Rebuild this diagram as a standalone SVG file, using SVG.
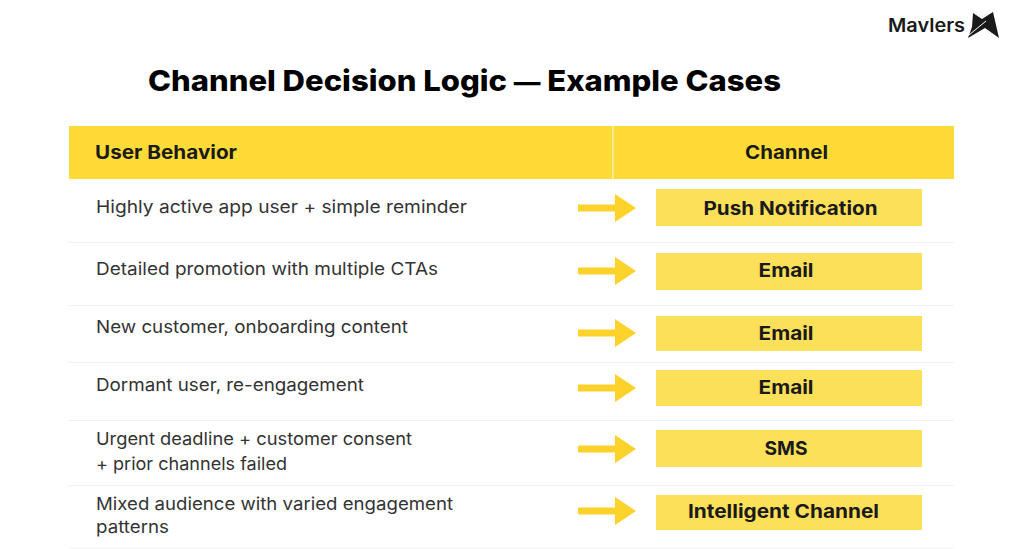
<svg xmlns="http://www.w3.org/2000/svg" width="1024" height="549" viewBox="0 0 1024 549">
<style>
text{font-family:"Inter","Open Sans","Liberation Sans",sans-serif;fill:#1a1a1a}
.title{font-size:29px;font-weight:800;fill:#000}
.head{font-size:19px;font-weight:700}
.row{font-size:17.5px;font-weight:400;fill:#333}
.ch{font-size:19px;font-weight:700;text-anchor:middle}
.box{fill:#fde05a}
.sep{stroke:#f1f1f1;stroke-width:1}
.arrow{fill:#fdd22a}
</style>
<defs><polygon id="arr" class="arrow" points="578,-3.500 615,-3.500 615,-14 636,0 615,14 615,3.500 578,3.500"/></defs>
<rect width="1024" height="549" fill="#fff"/>
<g id="logo">
<text x="888" y="32" font-size="18.5" font-weight="600" textLength="77" lengthAdjust="spacingAndGlyphs">Mavlers</text>
<polygon points="973,13 982,19 993,12 999,38 985,28 968,38 972,27" fill="#1a1a1a"/>
<line x1="969" y1="35" x2="986" y2="21" stroke="#fff" stroke-width="1"/>
</g>
<text class="title" x="148" y="91" textLength="633" lengthAdjust="spacingAndGlyphs">Channel Decision Logic <tspan font-size="25">—</tspan> Example Cases</text>
<g id="header">
<rect x="69" y="126" width="885" height="53" fill="#fedb37"/>
<rect x="612" y="126" width="1.500" height="53" fill="#fff0b0"/>
<text class="head" x="95" y="158.500" textLength="142" lengthAdjust="spacingAndGlyphs">User Behavior</text>
<text class="head" x="745" y="158.500" textLength="83" lengthAdjust="spacingAndGlyphs">Channel</text>
</g>
<g id="separators">
<line class="sep" x1="69" x2="954" y1="242.500" y2="242.500"/>
<line class="sep" x1="69" x2="954" y1="305.500" y2="305.500"/>
<line class="sep" x1="69" x2="954" y1="362.500" y2="362.500"/>
<line class="sep" x1="69" x2="954" y1="420.500" y2="420.500"/>
<line class="sep" x1="69" x2="954" y1="485.500" y2="485.500"/>
<line class="sep" x1="69" x2="954" y1="548" y2="548"/>
</g>
<g id="connectors">
<use href="#arr" y="208"/>
<use href="#arr" y="271"/>
<use href="#arr" y="333"/>
<use href="#arr" y="388"/>
<use href="#arr" y="449"/>
<use href="#arr" y="511"/>
</g>
<g id="row1">
<text class="row" x="96" y="213" textLength="371" lengthAdjust="spacingAndGlyphs">Highly active app user + simple reminder</text>
<rect class="box" x="656" y="189" width="266" height="37"/>
<text class="ch" x="790.500" y="215" textLength="174" lengthAdjust="spacingAndGlyphs">Push Notification</text>
</g>
<g id="row2">
<text class="row" x="96" y="275" textLength="342" lengthAdjust="spacingAndGlyphs">Detailed promotion with multiple CTAs</text>
<rect class="box" x="656" y="253" width="266" height="37"/>
<text class="ch" x="786" y="277" textLength="55" lengthAdjust="spacingAndGlyphs">Email</text>
</g>
<g id="row3">
<text class="row" x="96" y="333" textLength="312" lengthAdjust="spacingAndGlyphs">New customer, onboarding content</text>
<rect class="box" x="656" y="316" width="266" height="35"/>
<text class="ch" x="786" y="340" textLength="55" lengthAdjust="spacingAndGlyphs">Email</text>
</g>
<g id="row4">
<text class="row" x="96" y="391" textLength="268" lengthAdjust="spacingAndGlyphs">Dormant user, re-engagement</text>
<rect class="box" x="656" y="370" width="266" height="36"/>
<text class="ch" x="786" y="394" textLength="55" lengthAdjust="spacingAndGlyphs">Email</text>
</g>
<g id="row5">
<text class="row" x="96" y="445" textLength="316" lengthAdjust="spacingAndGlyphs">Urgent deadline + customer consent</text>
<text class="row" x="96" y="470" textLength="191" lengthAdjust="spacingAndGlyphs">+ prior channels failed</text>
<rect class="box" x="656" y="430" width="266" height="37"/>
<text class="ch" x="786" y="454.500" textLength="43" lengthAdjust="spacingAndGlyphs">SMS</text>
</g>
<g id="row6">
<text class="row" x="96" y="510" textLength="357" lengthAdjust="spacingAndGlyphs">Mixed audience with varied engagement</text>
<text class="row" x="96" y="533" textLength="73" lengthAdjust="spacingAndGlyphs">patterns</text>
<rect class="box" x="656" y="495" width="266" height="35"/>
<text class="ch" x="783.500" y="518" textLength="191" lengthAdjust="spacingAndGlyphs">Intelligent Channel</text>
</g>
</svg>
